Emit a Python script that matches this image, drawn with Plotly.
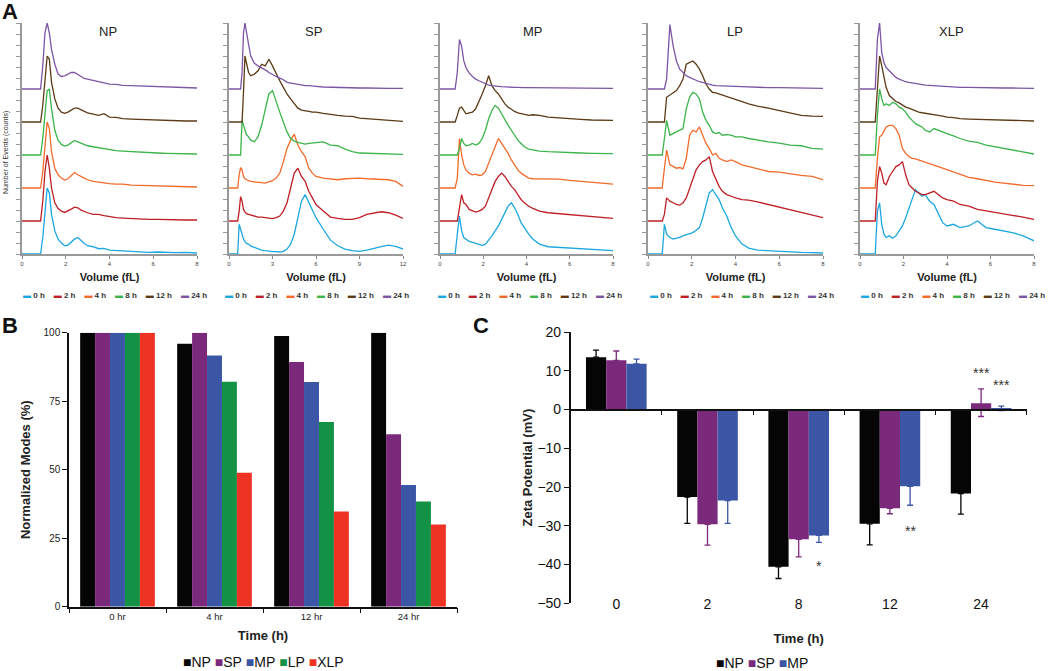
import plotly.graph_objects as go

W, H = 1050, 671

# ---------------- Panel A data (counts relative to each trace baseline) ----------------
TIME_LABELS = ["0 h", "2 h", "4 h", "8 h", "12 h", "24 h"]
TIME_COLORS = ["#1CA7E0", "#BE2026", "#F26B2A", "#3BB44A", "#5C3A15", "#7D55A5"]

NP_X = [0, 0.85, 0.95, 1.05, 1.15, 1.25, 1.35, 1.5, 1.65, 1.8, 1.95, 2.1, 2.25, 2.4, 2.55, 2.7,
        2.85, 3.0, 3.25, 3.5, 3.75, 4.0, 4.3, 4.6, 5.0, 5.4, 5.8, 6.2, 6.6, 7.0, 7.5, 8.0]
NP_0H = [0, 0, 0.5, 1.4, 2.0, 1.85, 1.2, 0.7, 0.45, 0.33, 0.25, 0.27, 0.35, 0.45, 0.5, 0.4,
         0.32, 0.25, 0.22, 0.16, 0.17, 0.12, 0.11, 0.09, 0.08, 0.07, 0.05, 0.06, 0.04, 0.04, 0.05, 0.03]
NP_2H = [0, 0, 0.6, 1.5, 2.0, 1.6, 1.0, 0.55, 0.38, 0.3, 0.26, 0.3, 0.36, 0.42, 0.4, 0.33,
         0.28, 0.25, 0.2, 0.2, 0.16, 0.13, 0.1, 0.09, 0.07, 0.06, 0.05, 0.05, 0.04, 0.05, 0.03, 0.03]
NP_4H = [0, 0, 0.5, 1.4, 2.0, 1.8, 1.1, 0.6, 0.4, 0.3, 0.24, 0.28, 0.38, 0.47, 0.4, 0.34,
         0.3, 0.25, 0.2, 0.18, 0.15, 0.13, 0.12, 0.12, 0.09, 0.08, 0.07, 0.06, 0.05, 0.05, 0.04, 0.03]
NP_8H = [0, 0, 0.5, 1.3, 1.95, 2.0, 1.4, 0.75, 0.45, 0.32, 0.27, 0.3, 0.38, 0.44, 0.4, 0.36,
         0.3, 0.28, 0.25, 0.22, 0.18, 0.16, 0.13, 0.12, 0.1, 0.08, 0.07, 0.06, 0.05, 0.05, 0.04, 0.03]
NP_12H = [0, 0, 0.5, 1.4, 2.0, 1.9, 1.2, 0.7, 0.42, 0.3, 0.26, 0.3, 0.35, 0.42, 0.42, 0.36,
          0.32, 0.28, 0.24, 0.2, 0.25, 0.15, 0.14, 0.1, 0.09, 0.08, 0.06, 0.05, 0.05, 0.04, 0.03, 0.03]
NP_24H = [0, 0, 0.7, 1.7, 2.0, 1.7, 1.2, 0.75, 0.45, 0.38, 0.4, 0.45, 0.5, 0.5, 0.45, 0.38,
          0.32, 0.3, 0.25, 0.22, 0.18, 0.15, 0.14, 0.11, 0.1, 0.09, 0.07, 0.07, 0.06, 0.05, 0.04, 0.03]

SP_X = [0, 0.6, 0.7, 0.8, 0.9, 1.0, 1.1, 1.2, 1.35, 1.5,
        1.75, 2.0, 2.25, 2.5, 2.75, 3.0, 3.25, 3.5, 3.75, 4.0,
        4.25, 4.5, 4.75, 5.0, 5.25, 5.5, 5.75, 6.0, 6.5, 7.0,
        7.5, 8.0, 8.5, 9.0, 9.5, 10.0, 10.5, 11.0, 11.5, 12.0]
SP_0H = [0, 0, 0.9, 0.75, 0.55, 0.45, 0.38, 0.32, 0.3, 0.24,
         0.2, 0.15, 0.12, 0.1, 0.08, 0.07, 0.07, 0.06, 0.08, 0.15,
         0.3, 0.6, 1.1, 1.6, 1.8, 1.55, 1.35, 1.1, 0.75, 0.42,
         0.25, 0.15, 0.1, 0.08, 0.12, 0.18, 0.22, 0.27, 0.23, 0.15]
SP_2H = [0, 0, 0.3, 0.74, 0.6, 0.35, 0.28, 0.22, 0.2, 0.18,
         0.15, 0.12, 0.12, 0.1, 0.08, 0.07, 0.1, 0.15, 0.3, 0.55,
         1.0, 1.45, 1.6, 1.35, 1.2, 0.9, 0.7, 0.5, 0.3, 0.12,
         0.08, 0.05, 0.05, 0.1, 0.2, 0.25, 0.28, 0.25, 0.18, 0.08]
SP_4H = [0, 0, 0.4, 0.62, 0.55, 0.35, 0.28, 0.25, 0.22, 0.2,
         0.18, 0.17, 0.16, 0.15, 0.18, 0.22, 0.3, 0.45, 0.8, 1.2,
         1.45, 1.63, 1.3, 1.1, 0.95, 0.6, 0.45, 0.35, 0.3, 0.27,
         0.25, 0.28, 0.3, 0.3, 0.28, 0.27, 0.28, 0.25, 0.2, 0.05]
SP_8H = [0, 0, 0, 0, 1.05, 0.9, 0.75, 0.62, 0.55, 0.45,
         0.4, 0.55, 0.9, 1.4, 1.85, 1.95, 1.6, 1.3, 1.0, 0.7,
         0.5, 0.42, 0.38, 0.35, 0.33, 0.35, 0.36, 0.38, 0.4, 0.3,
         0.28, 0.18, 0.1, 0.06, 0.05, 0.04, 0.03, 0.03, 0.02, 0.02]
SP_12H = [0, 0, 0, 0, 0, 0.9, 2.0, 1.8, 1.5, 1.4,
          1.45, 1.55, 1.75, 1.7, 1.9, 1.7, 1.45, 1.25, 1.05, 0.85,
          0.7, 0.55, 0.42, 0.36, 0.33, 0.32, 0.3, 0.3, 0.26, 0.22,
          0.2, 0.18, 0.17, 0.12, 0.1, 0.08, 0.06, 0.05, 0.03, 0.02]
SP_24H = [0, 0, 0, 0, 0.5, 1.7, 2.0, 1.7, 1.35, 1.0,
          0.78, 0.7, 0.65, 0.58, 0.5, 0.43, 0.38, 0.33, 0.28, 0.2,
          0.18, 0.15, 0.13, 0.1, 0.1, 0.1, 0.08, 0.08, 0.06, 0.05,
          0.04, 0.04, 0.03, 0.03, 0.03, 0.02, 0.02, 0.02, 0.02, 0.02]

MP_X = [0, 0.7, 0.8, 0.9, 1.0, 1.1, 1.2, 1.35, 1.5, 1.65,
        1.8, 1.95, 2.1, 2.25, 2.4, 2.55, 2.7, 2.85, 3.0, 3.15,
        3.3, 3.45, 3.6, 3.75, 3.9, 4.1, 4.3, 4.6, 5.0, 5.5,
        6.0, 6.5, 7.0, 7.5, 8.0]
MP_0H = [0, 0, 0.6, 1.15, 0.7, 0.5, 0.45, 0.38, 0.35, 0.32,
         0.3, 0.26, 0.3, 0.42, 0.55, 0.7, 0.85, 1.05, 1.25, 1.45,
         1.55, 1.4, 1.2, 0.95, 0.8, 0.6, 0.45, 0.3, 0.22, 0.2,
         0.2, 0.18, 0.15, 0.13, 0.1]
MP_2H = [0, 0, 0, 0.4, 0.8, 0.55, 0.5, 0.35, 0.3, 0.27,
         0.3, 0.35, 0.45, 0.7, 0.95, 1.2, 1.35, 1.45, 1.35, 1.2,
         1.05, 0.95, 0.8, 0.65, 0.55, 0.45, 0.38, 0.3, 0.25, 0.22,
         0.18, 0.15, 0.12, 0.1, 0.08]
MP_4H = [0, 0, 0.3, 1.5, 1.0, 0.7, 0.55, 0.45, 0.4, 0.42,
         0.38, 0.4, 0.5, 0.75, 1.05, 1.3, 1.5, 1.35, 1.2, 1.05,
         0.85, 0.7, 0.55, 0.45, 0.38, 0.3, 0.28, 0.28, 0.27, 0.27,
         0.23, 0.2, 0.18, 0.14, 0.12]
MP_8H = [0, 0, 0, 0.2, 0.5, 0.35, 0.28, 0.3, 0.35, 0.3,
         0.35, 0.5, 0.75, 1.1, 1.35, 1.5, 1.42, 1.25, 1.05, 0.9,
         0.75, 0.6, 0.45, 0.35, 0.25, 0.18, 0.15, 0.12, 0.1, 0.08,
         0.07, 0.06, 0.05, 0.04, 0.04]
MP_12H = [0, 0, 0.2, 0.42, 0.45, 0.35, 0.25, 0.28, 0.3, 0.4,
          0.6, 0.85, 1.1, 1.4, 1.1, 0.95, 0.85, 0.7, 0.55, 0.45,
          0.38, 0.32, 0.28, 0.25, 0.22, 0.2, 0.22, 0.2, 0.15, 0.12,
          0.1, 0.08, 0.06, 0.05, 0.05]
MP_24H = [0, 0, 0.5, 1.5, 1.3, 0.85, 0.65, 0.48, 0.38, 0.3,
          0.25, 0.2, 0.15, 0.12, 0.1, 0.08, 0.08, 0.07, 0.06, 0.06,
          0.05, 0.05, 0.05, 0.04, 0.04, 0.04, 0.04, 0.03, 0.03, 0.03,
          0.02, 0.02, 0.02, 0.02, 0.02]

LP_X = [0, 0.65, 0.75, 0.85, 1.0, 1.15, 1.3, 1.45, 1.6, 1.75,
        1.9, 2.05, 2.2, 2.35, 2.5, 2.65, 2.8, 2.95, 3.1, 3.25,
        3.4, 3.6, 3.8, 4.0, 4.3, 4.6, 5.0, 5.5, 6.0, 6.5,
        7.0, 7.5, 8.0]
LP_0H = [0, 0, 0.9, 0.6, 0.5, 0.45, 0.48, 0.5, 0.55, 0.58,
         0.62, 0.65, 0.72, 0.8, 1.1, 1.5, 1.85, 1.95, 1.8, 1.65,
         1.4, 1.15, 0.8, 0.55, 0.3, 0.18, 0.12, 0.1, 0.07, 0.06,
         0.05, 0.04, 0.03]
LP_2H = [0, 0, 0.2, 0.7, 0.6, 0.55, 0.5, 0.48, 0.55, 0.7,
         1.0, 1.3, 1.55, 1.7, 1.8, 1.85, 1.95, 1.5, 1.25, 1.05,
         0.9, 0.8, 0.75, 0.7, 0.65, 0.63, 0.58, 0.5, 0.42, 0.35,
         0.28, 0.2, 0.1]
LP_4H = [0, 0, 0.6, 1.15, 0.7, 0.65, 0.6, 0.62, 0.58, 0.9,
         1.6, 1.75, 1.7, 1.85, 1.6, 1.35, 1.2, 1.0, 1.05, 0.9,
         0.85, 0.8, 0.85, 0.8, 0.7, 0.65, 0.6, 0.5, 0.48, 0.42,
         0.38, 0.35, 0.25]
LP_8H = [0, 0, 0.5, 1.05, 0.6, 0.65, 0.7, 0.75, 0.8, 1.4,
         1.75, 1.9, 1.85, 1.7, 1.3, 1.05, 0.9, 0.7, 0.65, 0.68,
         0.6, 0.62, 0.6, 0.55, 0.55, 0.5, 0.45, 0.4, 0.36, 0.3,
         0.28, 0.2, 0.18]
LP_12H = [0, 0, 0, 0.75, 0.82, 0.88, 0.95, 1.1, 1.3, 1.75,
          1.8, 1.85, 1.75, 1.6, 1.4, 1.15, 1.0, 0.9, 0.88, 0.85,
          0.82, 0.78, 0.72, 0.68, 0.62, 0.55, 0.48, 0.42, 0.35, 0.28,
          0.2, 0.18, 0.17]
LP_24H = [0, 0, 0, 0.3, 1.95, 1.3, 0.85, 0.6, 0.5, 0.4,
          0.35, 0.3, 0.25, 0.22, 0.2, 0.17, 0.13, 0.12, 0.1, 0.1,
          0.09, 0.09, 0.08, 0.08, 0.07, 0.06, 0.05, 0.04, 0.04, 0.03,
          0.03, 0.02, 0.02]

XLP_X = [0, 0.7, 0.8, 0.9, 1.0, 1.1, 1.2, 1.35, 1.5, 1.65,
         1.8, 1.95, 2.1, 2.25, 2.4, 2.55, 2.7, 2.85, 3.0, 3.2,
         3.4, 3.6, 3.8, 4.0, 4.3, 4.6, 5.0, 5.4, 5.8, 6.2,
         6.6, 7.0, 7.5, 8.0]
XLP_0H = [0, 0, 1.3, 1.55, 0.9, 0.6, 0.5, 0.55, 0.48, 0.55,
          0.7, 0.85, 1.1, 1.4, 1.65, 1.95, 1.85, 1.75, 1.8, 1.6,
          1.5, 1.2, 0.95, 0.85, 0.9, 0.8, 0.85, 1.0, 0.8, 0.75,
          0.7, 0.65, 0.55, 0.4]
XLP_2H = [0, 0, 1.2, 1.65, 1.45, 1.15, 1.1, 1.35, 1.5, 1.65,
          1.7, 1.8, 1.4, 1.1, 1.0, 0.9, 0.85, 0.8, 0.8, 0.85,
          0.9, 0.8, 0.7, 0.65, 0.6, 0.5, 0.45, 0.35, 0.3, 0.25,
          0.22, 0.17, 0.12, 0.05]
XLP_4H = [0, 0, 0.9, 1.55, 1.6, 1.75, 1.85, 1.9, 1.9, 1.8,
          1.6, 1.2, 1.05, 0.95, 0.9, 0.88, 0.85, 0.8, 0.78, 0.75,
          0.7, 0.65, 0.6, 0.55, 0.48, 0.4, 0.32, 0.28, 0.22, 0.18,
          0.15, 0.12, 0.08, 0.07]
XLP_8H = [0, 0, 1.2, 2.0, 1.7, 1.5, 1.55, 1.5, 1.6, 1.55,
          1.45, 1.4, 1.3, 1.15, 1.05, 0.95, 0.9, 0.85, 0.75, 0.7,
          0.8, 0.75, 0.68, 0.65, 0.58, 0.5, 0.42, 0.38, 0.3, 0.25,
          0.2, 0.15, 0.1, 0.03]
XLP_12H = [0, 0, 1.0, 2.0, 1.7, 1.35, 1.05, 0.8, 0.7, 0.62,
           0.58, 0.52, 0.45, 0.42, 0.38, 0.33, 0.3, 0.28, 0.26, 0.24,
           0.22, 0.2, 0.18, 0.15, 0.13, 0.1, 0.09, 0.08, 0.06, 0.05,
           0.05, 0.04, 0.04, 0.03]
XLP_24H = [0, 0, 1.5, 2.0, 1.1, 0.8, 0.65, 0.55, 0.45, 0.35,
           0.3, 0.25, 0.22, 0.2, 0.18, 0.16, 0.15, 0.14, 0.12, 0.11,
           0.1, 0.09, 0.08, 0.07, 0.06, 0.05, 0.05, 0.04, 0.04, 0.03,
           0.03, 0.03, 0.02, 0.02]

A_NAMES = ["NP", "SP", "MP", "LP", "XLP"]
A_XS = [NP_X, SP_X, MP_X, LP_X, XLP_X]
A_YS = [[NP_0H, NP_2H, NP_4H, NP_8H, NP_12H, NP_24H],
        [SP_0H, SP_2H, SP_4H, SP_8H, SP_12H, SP_24H],
        [MP_0H, MP_2H, MP_4H, MP_8H, MP_12H, MP_24H],
        [LP_0H, LP_2H, LP_4H, LP_8H, LP_12H, LP_24H],
        [XLP_0H, XLP_2H, XLP_4H, XLP_8H, XLP_12H, XLP_24H]]
A_XMAX = [8, 12, 8, 8, 8]
A_TICKS = [[0, 2, 4, 6, 8], [0, 3, 6, 9, 12], [0, 2, 4, 6, 8], [0, 2, 4, 6, 8], [0, 2, 4, 6, 8]]

# ---------------- Panel B data ----------------
B_TIMES = ["0 hr", "4 hr", "12 hr", "24 hr"]
B_SERIES = ["NP", "SP", "MP", "LP", "XLP"]
B_NP = [100, 96.0, 98.8, 100]
B_SP = [100, 100, 89.3, 62.9]
B_MP = [100, 91.7, 82.0, 44.4]
B_LP = [100, 82.1, 67.4, 38.4]
B_XLP = [100, 48.9, 34.7, 30.0]
B_COLORS = ["#050505", "#7B2A7B", "#3A56A5", "#139246", "#EE3224"]

# ---------------- Panel C data ----------------
C_TIMES = ["0", "2", "8", "12", "24"]
C_SERIES = ["NP", "SP", "MP"]
C_NP = [13.5, -22.6, -40.6, -29.5, -21.7]
C_SP = [12.7, -29.6, -33.5, -25.5, 1.6]
C_MP = [11.8, -23.5, -32.5, -19.8, 0.3]
C_NP_ERR_UP = [1.8, 0, 0, 0, 0]
C_NP_ERR_DN = [0, 6.8, 3.0, 5.4, 5.3]
C_SP_ERR_UP = [2.4, 0, 0, 0, 3.7]
C_SP_ERR_DN = [0, 5.4, 4.5, 1.4, 3.4]
C_MP_ERR_UP = [1.2, 0, 0, 0, 0.6]
C_MP_ERR_DN = [0, 5.9, 1.8, 4.9, 0.6]
C_STAR_TIME = ["8", "12", "24", "24"]
C_STAR_SERIES = ["MP", "MP", "SP", "MP"]
C_STAR_TEXT = ["*", "**", "***", "***"]
C_STAR_Y = [-40.3, -31.3, 9.4, 6.4]
C_Y_RANGE = [-50, 20]

FONT = "Arial, Liberation Sans, sans-serif"


def px(x):
    return x / W


def py(y):
    return 1 - y / H


def label(text, x, y, size, color="#222", **kw):
    return dict(text=text, x=px(x), y=py(y), xref="paper", yref="paper", showarrow=False,
                xanchor="center", yanchor="middle", font=dict(size=size, color=color), **kw)


fig = go.Figure()
layout = dict(width=W, height=H, margin=dict(l=0, r=0, t=0, b=0, autoexpand=False),
              paper_bgcolor="white", plot_bgcolor="white", showlegend=False,
              font=dict(family=FONT, color="#222"))
annotations = []

# ---------------- Panel A ----------------
A_XDOM = [(22, 197), (229, 403), (440, 613), (648, 823), (860, 1034)]
A_YDOM = [py(254), py(23)]
A_TITLE_X = [108, 313, 533, 735, 951]
A_LEG_X = [115, 317, 530, 742, 953]

for p, name in enumerate(A_NAMES):
    xs = A_XS[p]
    xa = "x" if p == 0 else f"x{p + 1}"
    ya = "y" if p == 0 else f"y{p + 1}"
    for k, ys in enumerate(A_YS[p]):
        assert len(ys) == len(xs), (name, k, len(ys), len(xs))
        fig.add_trace(go.Scatter(x=xs, y=[v + k for v in ys], mode="lines",
                                 name=f"{name} {TIME_LABELS[k]}",
                                 line=dict(color=TIME_COLORS[k], width=1.3),
                                 xaxis=xa, yaxis=ya, showlegend=False))
    xkey = "xaxis" if p == 0 else f"xaxis{p + 1}"
    ykey = "yaxis" if p == 0 else f"yaxis{p + 1}"
    layout[xkey] = dict(domain=[px(A_XDOM[p][0]), px(A_XDOM[p][1])], range=[0, A_XMAX[p]],
                        tickvals=A_TICKS[p], ticks="outside", ticklen=3, tickcolor="#888",
                        tickfont=dict(size=6, color="#444"), showline=True, linecolor="#999",
                        linewidth=1.5, showgrid=False, zeroline=False, anchor=ya, automargin=False,
                        title=dict(text="<b>Volume (fL)</b>", font=dict(size=11, color="#222"),
                                   standoff=7))
    layout[ykey] = dict(domain=A_YDOM, range=[0, 7], tick0=0, dtick=1 / 3, ticks="outside",
                        ticklen=4, tickcolor="#999", showticklabels=False, showline=True,
                        linecolor="#999", linewidth=1.5, showgrid=False, zeroline=False,
                        anchor=xa, automargin=False)
    annotations.append(label(name, A_TITLE_X[p], 32, 13))
    leg = "\u00a0\u00a0\u00a0\u00a0".join(
        f"<span style='color:{TIME_COLORS[k]}'>\u25ac</span>\u00a0<b>{TIME_LABELS[k]}</b>"
        for k in range(6))
    annotations.append(label(leg, A_LEG_X[p], 295, 8, "#333"))

annotations.append(label("Number of Events (counts)", 6, 153, 7, "#333", textangle=-90))
annotations.append(label("<b>A</b>", 10, 12, 22, "#111"))

# ---------------- Panel B ----------------
B_VALUES = [B_NP, B_SP, B_MP, B_LP, B_XLP]
B_GROUP = 0.77
bw = B_GROUP / len(B_SERIES)
for i, s in enumerate(B_SERIES):
    fig.add_trace(go.Bar(x=B_TIMES, y=B_VALUES[i], name=s, marker=dict(color=B_COLORS[i], line=dict(width=0)),
                         width=bw, offset=-B_GROUP / 2 + i * bw,
                         xaxis="x6", yaxis="y6", showlegend=False))
layout["xaxis6"] = dict(domain=[px(69), px(457)], type="category", categoryorder="array",
                        categoryarray=B_TIMES, range=[-0.5, len(B_TIMES) - 0.5],
                        tickson="boundaries", ticks="outside", ticklen=5, tickcolor="#111",
                        showline=True, linecolor="#111", linewidth=1.5, showgrid=False,
                        tickfont=dict(size=9.5, color="#222"), anchor="y6", automargin=False,
                        title=dict(text="<b>Time (h)</b>", font=dict(size=13, color="#222"), standoff=10))
layout["yaxis6"] = dict(domain=[py(606.7), py(332.7)], range=[0, 100], tickvals=[0, 25, 50, 75, 100],
                        ticks="outside", ticklen=5, tickcolor="#111", showline=True, linecolor="#111",
                        linewidth=1.5, showgrid=False, zeroline=False, tickfont=dict(size=10, color="#222"),
                        anchor="x6", automargin=False,
                        title=dict(text="<b>Normalized Modes (%)</b>", font=dict(size=13, color="#222"),
                                   standoff=10))
annotations.append(label("<b>B</b>", 10, 325, 22, "#111"))
legB = "\u00a0".join(f"<span style='color:{B_COLORS[i]}'>\u25a0</span>{s}" for i, s in enumerate(B_SERIES))
annotations.append(label(legB, 263, 662, 14, "#111"))

# ---------------- Panel C ----------------
C_VALUES = [C_NP, C_SP, C_MP]
C_UP = [C_NP_ERR_UP, C_SP_ERR_UP, C_MP_ERR_UP]
C_DN = [C_NP_ERR_DN, C_SP_ERR_DN, C_MP_ERR_DN]
C_COLORS = B_COLORS[:3]
C_GROUP = 0.665
cw = C_GROUP / len(C_SERIES)
for i, s in enumerate(C_SERIES):
    fig.add_trace(go.Bar(x=C_TIMES, y=C_VALUES[i], name=s, marker=dict(color=C_COLORS[i], line=dict(width=0)),
                         width=cw, offset=-C_GROUP / 2 + i * cw,
                         error_y=dict(type="data", symmetric=False, array=C_UP[i], arrayminus=C_DN[i],
                                      color=C_COLORS[i], thickness=1.3, width=3),
                         xaxis="x7", yaxis="y7", showlegend=False))
c_dom = [py(603.3), py(332)]
zero_pos = c_dom[0] + (0 - C_Y_RANGE[0]) / (C_Y_RANGE[1] - C_Y_RANGE[0]) * (c_dom[1] - c_dom[0])
layout["xaxis7"] = dict(domain=[px(570.7), px(1026.7)], type="category", categoryorder="array",
                        categoryarray=C_TIMES, range=[-0.5, len(C_TIMES) - 0.5],
                        tickson="boundaries", ticks="outside", ticklen=5, tickcolor="#111",
                        showline=True, linecolor="#111", linewidth=1.5, showgrid=False,
                        anchor="free", position=zero_pos, ticklabelstandoff=182, automargin=False,
                        tickfont=dict(size=14, color="#111"),
                        title=dict(text="<b>Time (h)</b>", font=dict(size=13, color="#222"), standoff=22))
layout["yaxis7"] = dict(domain=c_dom, range=C_Y_RANGE, dtick=10, ticks="outside", ticklen=5,
                        tickcolor="#111", showline=True, linecolor="#111", linewidth=1.5, showgrid=False,
                        zeroline=False, tickfont=dict(size=14, color="#111"), anchor="x7", automargin=False,
                        title=dict(text="<b>Zeta Potential (mV)</b>", font=dict(size=13, color="#222"),
                                   standoff=2))
for t, s, txt, yv in zip(C_STAR_TIME, C_STAR_SERIES, C_STAR_TEXT, C_STAR_Y):
    xi = C_TIMES.index(t) - C_GROUP / 2 + (C_SERIES.index(s) + 0.5) * cw
    annotations.append(dict(text=txt, x=xi, y=yv, xref="x7", yref="y7", showarrow=False,
                            xanchor="center", yanchor="middle", font=dict(size=14, color="#333")))
annotations.append(label("<b>C</b>", 481, 325, 22, "#111"))
legC = "\u00a0".join(f"<span style='color:{C_COLORS[i]}'>\u25a0</span>{s}" for i, s in enumerate(C_SERIES))
annotations.append(label(legC, 762, 663, 14, "#111"))

layout["annotations"] = annotations
fig.update_layout(**layout)
fig.write_html("out.html", config={"displayModeBar": False},
               post_script="document.body.style.margin='0';document.body.style.padding='0';"
                           "document.body.style.overflow='hidden';")
